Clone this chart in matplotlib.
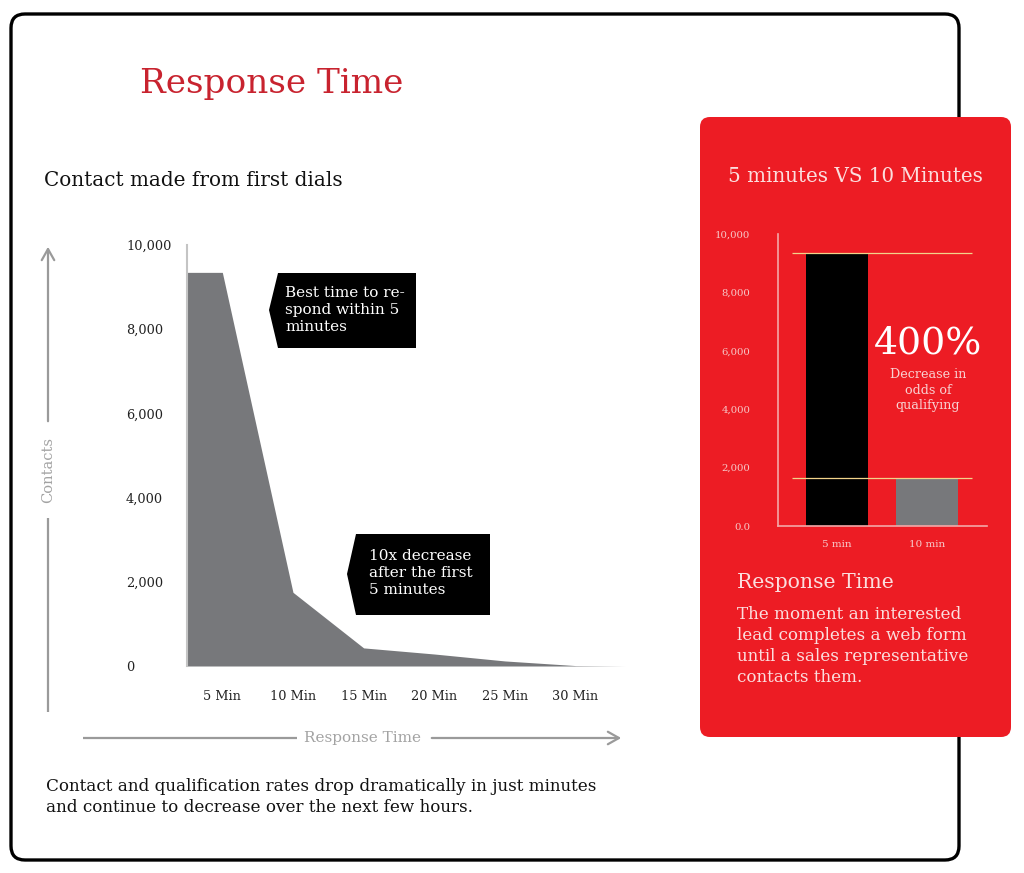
import matplotlib
matplotlib.use("Agg")
import matplotlib.pyplot as plt
from matplotlib.patches import FancyBboxPatch, Polygon

plt.rcParams['font.family'] = ['DejaVu Serif']

# Data: contacts made from first dials
minutes = [2.5, 5, 10, 15, 20, 25, 30, 33.5]
contacts = [9350, 9350, 1750, 430, 285, 120, 10, 0]
x_ticks = [5, 10, 15, 20, 25, 30]
x_labels = ['5 Min', '10 Min', '15 Min', '20 Min', '25 Min', '30 Min']
y_ticks = [0, 2000, 4000, 6000, 8000, 10000]
y_labels = ['0', '2,000', '4,000', '6,000', '8,000', '10,000']

# Data: 5 minutes vs 10 minutes
bar_cats = ['5 min', '10 min']
bar_vals = [9350, 1650]
bar_ticks = [0, 2000, 4000, 6000, 8000, 10000]
bar_tick_labels = ['0.0', '2,000', '4,000', '6,000', '8,000', '10,000']

W, H = 1024, 873
GRAY = '#77787b'
RED = '#ed1c24'
PINK = '#fbdede'

fig = plt.figure(figsize=(W / 100, H / 100), dpi=100)

# background axes in pixel units (origin top-left)
bg = fig.add_axes([0, 0, 1, 1])
bg.set_xlim(0, W)
bg.set_ylim(H, 0)
bg.axis('off')

bg.add_patch(FancyBboxPatch((11, 14), 948, 846, boxstyle='round,pad=0,rounding_size=14',
                            fc='white', ec='black', lw=2.4))
bg.add_patch(FancyBboxPatch((700, 117), 311, 620, boxstyle='round,pad=0,rounding_size=10',
                            fc=RED, ec='none'))

bg.text(140, 84, 'Response Time', color='#c8232f', fontsize=24.7, va='center', ha='left')
bg.text(44, 180, 'Contact made from first dials', color='#111111', fontsize=14.4,
        va='center', ha='left')
bg.text(46, 797, 'Contact and qualification rates drop dramatically in just minutes\n'
                 'and continue to decrease over the next few hours.',
        color='#111111', fontsize=12.1, va='center', ha='left', linespacing=1.3)

# axis arrows with labels
ax_col = '#9a9a9a'
bg.plot([48, 48], [712, 518], color=ax_col, lw=1.6, solid_capstyle='butt')
bg.annotate('', xy=(48, 244), xytext=(48, 424),
            arrowprops=dict(arrowstyle='->,head_length=0.8,head_width=0.45', color=ax_col, lw=1.6))
bg.text(48, 470, 'Contacts', rotation=90, color='#a3a3a3', fontsize=10.5,
        va='center', ha='center')
bg.plot([83, 297], [738, 738], color=ax_col, lw=1.6, solid_capstyle='butt')
bg.annotate('', xy=(624, 738), xytext=(429, 738),
            arrowprops=dict(arrowstyle='->,head_length=0.8,head_width=0.45', color=ax_col, lw=1.6))
bg.text(363, 738, 'Response Time', color='#a3a3a3', fontsize=11, va='center', ha='center')

# black tag annotations
bg.add_patch(Polygon([(278, 273), (416, 273), (416, 348), (278, 348), (269, 310)],
                     closed=True, fc='black', ec='none'))
bg.text(285, 310, 'Best time to re-\nspond within 5\nminutes', color='white', fontsize=11,
        va='center', ha='left', linespacing=1.27)
bg.add_patch(Polygon([(356, 534), (490, 534), (490, 615), (356, 615), (347, 574)],
                     closed=True, fc='black', ec='none'))
bg.text(369, 573, '10x decrease\nafter the first\n5 minutes', color='white', fontsize=11,
        va='center', ha='left', linespacing=1.27)

# red panel texts
bg.text(855, 177, '5 minutes VS 10 Minutes', color=PINK, fontsize=14.3, va='center', ha='center')
bg.text(928, 343, '400%', color='white', fontsize=27.3, va='center', ha='center')
bg.text(928, 390, 'Decrease in\nodds of\nqualifying', color='#f8d2d2', fontsize=9.2,
        va='center', ha='center', linespacing=1.3)
bg.text(737, 582, 'Response Time', color=PINK, fontsize=14.7, va='center', ha='left')
bg.text(737, 646, 'The moment an interested\nlead completes a web form\n'
                  'until a sales representative\ncontacts them.',
        color=PINK, fontsize=12.1, va='center', ha='left', linespacing=1.3)


def px_rect(l, t, r, b):
    return [l / W, 1 - b / H, (r - l) / W, (b - t) / H]


# main area chart
ax = fig.add_axes(px_rect(187, 245, 625, 666))
ax.patch.set_alpha(0)
ax.fill_between(minutes, contacts, 0, color=GRAY, lw=0)
ax.set_xlim(2.5, 33.5)
ax.set_ylim(0, 10000)
for s in ['top', 'right', 'bottom']:
    ax.spines[s].set_visible(False)
ax.spines['left'].set_color('#c4c4c4')
ax.spines['left'].set_linewidth(1.5)
ax.set_xticks(x_ticks)
ax.set_xticklabels(x_labels, fontsize=9.3, color='#222222')
ax.set_yticks(y_ticks)
ax.set_yticklabels(y_labels, fontsize=9.3, color='#222222', ha='left')
ax.tick_params(axis='x', length=0, pad=17)
ax.tick_params(axis='y', length=0, pad=44)

# bar chart inside red panel
bx = fig.add_axes(px_rect(778, 234, 987, 526))
bx.patch.set_alpha(0)
bx.bar([0, 1], bar_vals, width=0.68, color=['black', GRAY])
bx.hlines(bar_vals, -0.5, 1.5, color='#f2d38a', lw=0.9)
bx.set_xlim(-0.656, 1.667)
bx.set_ylim(0, 10000)
for s in ['top', 'right']:
    bx.spines[s].set_visible(False)
for s in ['left', 'bottom']:
    bx.spines[s].set_color('#f4a8a8')
    bx.spines[s].set_linewidth(1.2)
bx.set_xticks([0, 1])
bx.set_xticklabels(bar_cats, fontsize=7.5, color='#f6cccc')
bx.set_yticks(bar_ticks)
bx.set_yticklabels(bar_tick_labels, fontsize=7.3, color='#f6c8c8')
bx.tick_params(axis='both', length=0)
bx.tick_params(axis='x', pad=10)
bx.tick_params(axis='y', pad=20)

fig.savefig('out.png', dpi=100)
